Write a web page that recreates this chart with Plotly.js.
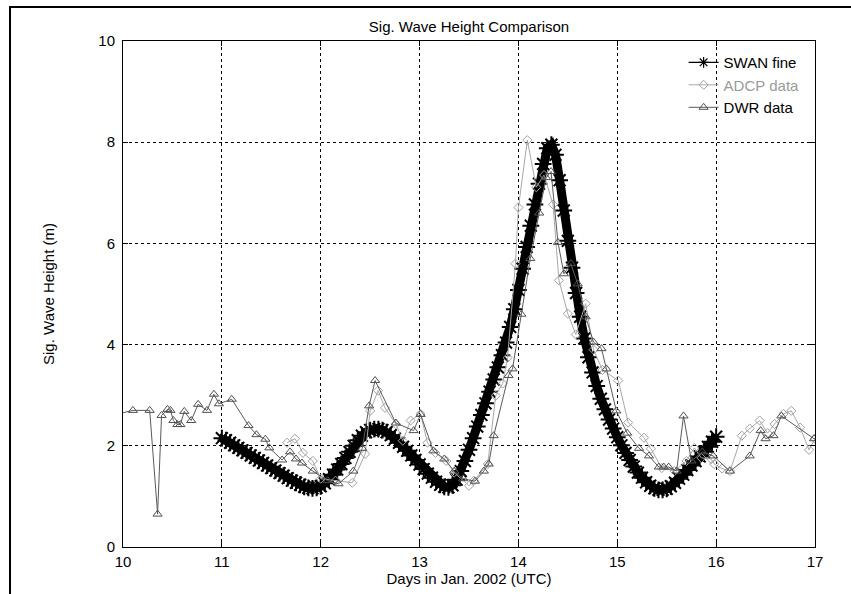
<!DOCTYPE html>
<html>
<head>
<meta charset="utf-8">
<script src="https://cdn.plot.ly/plotly-3.0.1.min.js"></script>
<style>
  html, body { margin: 0; padding: 0; background: #fff; }
  #wrap { position: relative; width: 851px; height: 594px; overflow: hidden; }
  #chart { position: absolute; left: 0; top: 0; width: 851px; height: 594px; }
  #frame { position: absolute; left: 9px; top: 6px; width: 900px; height: 700px;
           border-left: 2px solid #000; border-top: 2px solid #000; pointer-events: none; }
</style>
</head>
<body>
<div id="wrap"><div id="chart"></div><div id="frame"></div></div>
<script>
// ---- Data ----
// SWAN fine: hourly model output starting at day 11.0
const swanStartDay = 11;
const swanStepDays = 1 / 24;
const swanHs = [
  2.15, 2.11, 2.06, 2.01, 1.96, 1.91, 1.86, 1.81, 1.76, 1.71,
  1.66, 1.61, 1.56, 1.51, 1.46, 1.41, 1.36, 1.31, 1.27, 1.23,
  1.19, 1.17, 1.16, 1.17, 1.20, 1.26, 1.34, 1.43, 1.53, 1.64,
  1.76, 1.88, 2.00, 2.11, 2.20, 2.27, 2.31, 2.33, 2.33, 2.31,
  2.27, 2.21, 2.14, 2.06, 1.98, 1.90, 1.81, 1.72, 1.63, 1.54,
  1.45, 1.37, 1.29, 1.23, 1.19, 1.18, 1.22, 1.33, 1.50, 1.70,
  1.92, 2.15, 2.38, 2.61, 2.84, 3.07, 3.31, 3.55, 3.79, 4.04,
  4.35, 4.70, 5.08, 5.50, 5.93, 6.35, 6.77, 7.18, 7.57, 7.88,
  7.95, 7.75, 7.25, 6.65, 6.05, 5.52, 5.02, 4.55, 4.12, 3.75,
  3.45, 3.18, 2.93, 2.72, 2.52, 2.34, 2.17, 2.01, 1.86, 1.72,
  1.59, 1.47, 1.37, 1.28, 1.21, 1.16, 1.13, 1.13, 1.15, 1.20,
  1.27, 1.35, 1.43, 1.52, 1.61, 1.70, 1.79, 1.88, 1.98, 2.08,
  2.18
];
const swanDays = swanHs.map((_, i) => swanStartDay + i * swanStepDays);

// ADCP data
const adcpDays = [11.66, 11.74, 11.82, 11.92, 12.00, 12.15, 12.32, 12.45, 12.50, 12.58,
  12.65, 12.76, 12.83, 12.91, 13.01, 13.08, 13.16, 13.27, 13.35, 13.50,
  13.55, 13.69, 13.77, 13.84, 13.89, 13.97, 14.00, 14.09, 14.18, 14.26,
  14.35, 14.41, 14.50, 14.58, 14.68, 14.76, 14.85, 15.01, 15.11, 15.27,
  15.34, 15.45, 15.58, 15.70, 15.78, 15.85, 15.95, 15.98, 16.06, 16.14,
  16.26, 16.34, 16.44, 16.52, 16.59, 16.68, 16.76, 16.85, 16.94, 17.00];
const adcpHs = [2.06, 2.14, 1.86, 1.70, 1.35, 1.31, 1.27, 1.84, 2.69, 3.09,
  2.75, 2.43, 2.10, 2.50, 2.63, 2.06, 1.86, 1.70, 1.47, 1.21,
  1.31, 1.64, 2.99, 3.23, 3.74, 5.60, 6.71, 8.04, 7.11, 7.35,
  6.77, 5.27, 4.61, 4.20, 4.81, 3.90, 3.50, 3.29, 2.46, 2.16,
  1.94, 1.56, 1.50, 1.70, 1.96, 1.76, 1.74, 1.64, 1.55, 1.50,
  2.20, 2.34, 2.50, 2.25, 2.43, 2.63, 2.69, 2.36, 1.92, 2.14];

// DWR data
const dwrDays = [9.95, 10.10, 10.27, 10.35, 10.39, 10.45, 10.48, 10.51, 10.55, 10.58,
  10.62, 10.69, 10.76, 10.85, 10.92, 10.97, 11.10, 11.27, 11.35, 11.44,
  11.48, 11.61, 11.69, 11.75, 11.81, 11.92, 12.07, 12.18, 12.33, 12.42,
  12.49, 12.55, 12.76, 12.94, 13.01, 13.14, 13.25, 13.35, 13.44, 13.56,
  13.65, 13.70, 13.75, 13.90, 13.94, 14.03, 14.12, 14.21, 14.28, 14.33,
  14.40, 14.46, 14.53, 14.60, 14.68, 14.76, 14.84, 14.89, 14.99, 15.10,
  15.22, 15.32, 15.42, 15.47, 15.52, 15.60, 15.67, 15.75, 15.86, 15.97,
  16.14, 16.34, 16.45, 16.50, 16.58, 16.66, 16.99, 17.05];
const dwrHs = [2.63, 2.70, 2.70, 0.65, 2.60, 2.72, 2.70, 2.50, 2.42, 2.42,
  2.68, 2.50, 2.82, 2.70, 3.02, 2.83, 2.92, 2.40, 2.22, 2.13,
  1.96, 1.72, 1.88, 1.74, 1.66, 1.50, 1.31, 1.25, 1.50, 1.95,
  2.79, 3.29, 2.45, 2.30, 2.62, 1.90, 1.74, 1.50, 1.35, 1.30,
  1.50, 1.64, 2.20, 3.39, 3.52, 4.60, 5.70, 6.60, 7.30, 7.42,
  6.02, 5.40, 5.60, 5.20, 4.55, 4.05, 3.92, 3.52, 2.69, 2.25,
  1.95, 1.80, 1.58, 1.58, 1.58, 1.50, 2.59, 1.70, 1.88, 1.80,
  1.50, 1.80, 2.30, 2.14, 2.20, 2.59, 2.14, 2.12];

const xTicks = [10, 11, 12, 13, 14, 15, 16, 17];
const yTicks = [0, 2, 4, 6, 8, 10];

// ---- Traces ----
const swanMarker = { symbol: 'asterisk-open', size: 14, color: '#000', line: { color: '#000', width: 2 } };
const traces = [
  { // legend key for SWAN (no data of its own)
    x: [null], y: [null], type: 'scatter', mode: 'lines+markers',
    name: 'SWAN fine',
    line: { color: '#000', width: 1.2 },
    marker: { symbol: 'asterisk-open', size: 9, color: '#000', line: { color: '#000', width: 1.2 } }
  },
  {
    x: swanDays, y: swanHs, type: 'scatter', mode: 'lines+markers',
    name: 'SWAN fine', showlegend: false,
    line: { color: '#000', width: 9 },
    marker: swanMarker
  },
  {
    x: adcpDays, y: adcpHs, type: 'scatter', mode: 'lines+markers',
    name: '<span style="color:#9a9a9a">ADCP data</span>',
    line: { color: '#a8a8a8', width: 1 },
    marker: { symbol: 'diamond-open', size: 7, color: '#a0a0a0', line: { color: '#a0a0a0', width: 1 } }
  },
  {
    x: dwrDays, y: dwrHs, type: 'scatter', mode: 'lines+markers',
    name: 'DWR data',
    line: { color: '#5a5a5a', width: 1 },
    marker: { symbol: 'triangle-up-open', size: 8, color: '#505050', line: { color: '#505050', width: 1 } }
  }
];

const font = { family: 'Liberation Sans, Arial, Helvetica, sans-serif', size: 15, color: '#000' };

const axisCommon = {
  showline: true, linecolor: '#000', linewidth: 1, mirror: 'ticks',
  ticks: 'inside', ticklen: 5, tickcolor: '#000',
  showgrid: true, gridcolor: '#000', gridwidth: 1, griddash: 'dot',
  zeroline: false, tickfont: font
};

const layout = {
  width: 851, height: 594,
  paper_bgcolor: '#fff', plot_bgcolor: '#fff',
  margin: { l: 123, r: 36, t: 41, b: 47 },
  font: font,
  title: {
    text: 'Sig. Wave Height Comparison',
    font: font, x: 0.5, xref: 'paper', y: 1 - 27 / 594, yref: 'container', yanchor: 'middle'
  },
  xaxis: Object.assign({}, axisCommon, {
    range: [10, 17], tickvals: xTicks, ticktext: xTicks.map(String),
    title: { text: 'Days in Jan. 2002 (UTC)', font: font, standoff: 0 },
    ticklabelstandoff: 1
  }),
  yaxis: Object.assign({}, axisCommon, {
    range: [0, 10], tickvals: yTicks, ticktext: yTicks.map(String),
    title: { text: 'Sig. Wave Height (m)', font: font, standoff: 40 },
    ticklabelstandoff: 4
  }),
  showlegend: true,
  legend: {
    x: 0.985, xanchor: 'right', y: 0.99, yanchor: 'top',
    bgcolor: 'rgba(0,0,0,0)', borderwidth: 0, font: font,
    tracegroupgap: 0, itemwidth: 30
  }
};

Plotly.newPlot('chart', traces, layout, { staticPlot: true, displayModeBar: false });
</script>
</body>
</html>
